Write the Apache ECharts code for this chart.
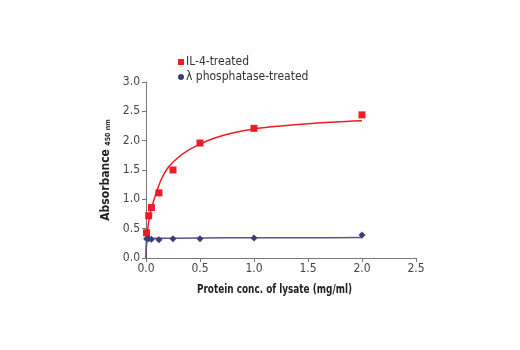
<!DOCTYPE html>
<html><head><meta charset="utf-8">
<script src="https://cdn.jsdelivr.net/npm/echarts@6/dist/echarts.min.js"></script>
<style>html,body{margin:0;padding:0;background:#fff}#c{width:520px;height:350px}</style>
</head><body><div id="c"></div>
<script>
const seriesNames = ['IL-4-treated', 'λ phosphatase-treated'];
const xTitle = 'Protein conc. of lysate (mg/ml)';
const xTicks = ['0.0','0.5','1.0','1.5','2.0','2.5'];
const yTicks = ['0.0','0.5','1.0','1.5','2.0','2.5','3.0'];
// measured points
const il4X = [0.005, 0.025, 0.05, 0.12, 0.25, 0.5, 1.0, 2.0];
const il4Y = [0.43, 0.72, 0.86, 1.11, 1.50, 1.96, 2.21, 2.44];
const phosX = [0.005, 0.025, 0.05, 0.12, 0.25, 0.5, 1.0, 2.0];
const phosY = [0.33, 0.33, 0.32, 0.31, 0.33, 0.33, 0.34, 0.39];
// fitted curves
const il4FitX = [0, 0.005, 0.015, 0.03, 0.046, 0.07, 0.093, 0.139, 0.2, 0.29, 0.385, 0.51, 0.63, 0.8, 1.0, 1.25, 1.5, 1.75, 2.0];
const il4FitY = [0, 0.25, 0.48, 0.68, 0.82, 0.97, 1.10, 1.33, 1.53, 1.70, 1.83, 1.95, 2.04, 2.13, 2.20, 2.25, 2.29, 2.32, 2.34];
const phosFitX = [0, 0.003, 0.008, 0.015, 0.03, 0.1, 0.5, 1.0, 1.5, 2.0];
const phosFitY = [0, 0.20, 0.30, 0.32, 0.33, 0.335, 0.34, 0.345, 0.345, 0.35];

const zip = (a, b) => a.map((v, i) => [v, b[i]]);
const FONT = "'DejaVu Sans Condensed', 'Liberation Sans Narrow', sans-serif";
const RED = '#ee1c25', BLUE = '#3d3d78', BLUELINE = '#55558a';

const chart = echarts.init(document.getElementById('c'));
chart.setOption({
  animation: false,
  textStyle: { fontFamily: FONT },
  grid: { left: 146, right: 104, top: 82, bottom: 92 },
  graphic: [{
    type: 'text', x: 274.5, y: 290, scaleX: 0.76,
    style: { text: xTitle, font: "bold 13px " + FONT, fill: '#222', align: 'center', verticalAlign: 'middle' }
  }],
  legend: {
    orient: 'vertical', left: 173, top: 51, itemWidth: 6, itemHeight: 6, itemGap: 3,
    textStyle: { fontFamily: FONT, fontSize: 12, color: '#333', padding: [0, 0, 0, -3] },
    data: [
      { name: seriesNames[0], icon: 'rect', itemStyle: { color: RED } },
      { name: seriesNames[1], icon: 'circle', itemStyle: { color: BLUE } }
    ]
  },
  xAxis: {
    type: 'value', min: 0, max: 2.5, interval: 0.5,
    axisLine: { lineStyle: { color: '#777', width: 1 } },
    axisTick: { length: 4, lineStyle: { color: '#777' } },
    splitLine: { show: false },
    axisLabel: { fontSize: 12, color: '#444', margin: 5, formatter: v => xTicks[Math.round(v / 0.5)] }
  },
  yAxis: {
    type: 'value', min: 0, max: 3, interval: 0.5,
    name: '{a|Absorbance} {b|450 nm}', nameLocation: 'middle', nameGap: 31, nameRotate: 90,
    nameTextStyle: {
      rich: {
        a: { fontFamily: FONT, fontSize: 12, fontWeight: 'bold', color: '#222' },
        b: { fontFamily: FONT, fontSize: 7, fontWeight: 'bold', color: '#222', padding: [6, 0, 0, 0] }
      }
    },
    axisLine: { show: true, lineStyle: { color: '#777', width: 1 } },
    axisTick: { show: true, length: 4, lineStyle: { color: '#777' } },
    splitLine: { show: false },
    axisLabel: { fontSize: 12, color: '#444', margin: 6, formatter: v => yTicks[Math.round(v / 0.5)] }
  },
  series: [
    { name: seriesNames[0], type: 'line', data: zip(il4FitX, il4FitY), showSymbol: false, smooth: 0.3,
      lineStyle: { color: RED, width: 1.5 }, itemStyle: { color: RED }, z: 2, silent: true },
    { name: seriesNames[1], type: 'line', data: zip(phosFitX, phosFitY), showSymbol: false, smooth: 0.3,
      lineStyle: { color: BLUELINE, width: 1.5 }, itemStyle: { color: BLUE }, z: 2 },
    { name: seriesNames[0], type: 'scatter', data: zip(il4X, il4Y), symbol: 'rect', symbolSize: 7,
      itemStyle: { color: RED, opacity: 1 }, z: 3 },
    { name: seriesNames[1], type: 'scatter', data: zip(phosX, phosY), symbol: 'diamond', symbolSize: 7,
      itemStyle: { color: BLUE, opacity: 1 }, z: 4 }
  ]
});
</script></body></html>
